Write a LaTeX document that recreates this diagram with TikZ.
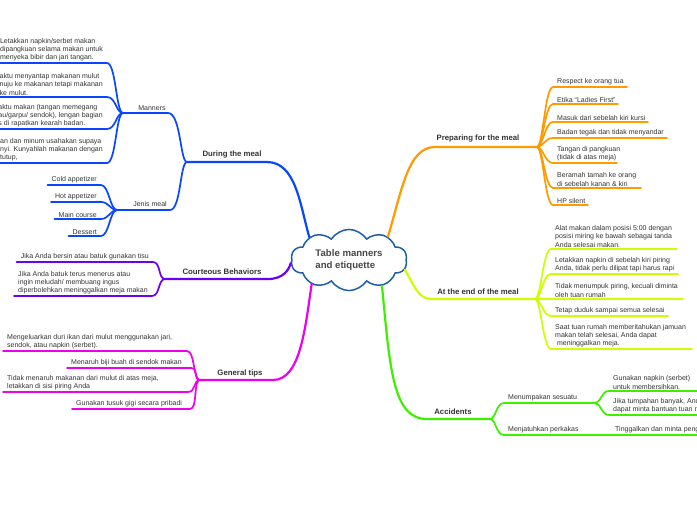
\documentclass[tikz,border=0pt]{standalone}
\usepackage{fontspec}
\setmainfont{Liberation Sans}
\usetikzlibrary{shapes.symbols}
\definecolor{mapink}{HTML}{333333}
\definecolor{mapcloud}{HTML}{1F5FA6}
\definecolor{mapblue}{HTML}{0A46FF}
\definecolor{mappurple}{HTML}{6A00F4}
\definecolor{mapmagenta}{HTML}{EE00EE}
\definecolor{maporange}{HTML}{FF9A00}
\definecolor{maplime}{HTML}{CCFF00}
\definecolor{mapgreen}{HTML}{3CF000}

\begin{document}
\begin{tikzpicture}[x=1pt,y=-1pt,font=\fontsize{7}{8.3}\selectfont,text=mapink,
    leaf/.style={anchor=south west,align=left,inner xsep=4pt,inner ysep=1.5pt},
    leafr/.style={anchor=south east,align=left,inner xsep=4pt,inner ysep=1.5pt},
    topic/.style={font=\fontsize{7.8}{9}\selectfont\bfseries},
    trunk/.style={line width=2.2pt,line cap=round},
    twig/.style={line width=1.7pt,line cap=round}]
  \useasboundingbox (0,0) rectangle (697,520);
  \clip (0,0) rectangle (697,520);

  % centre
  \node[cloud,cloud puffs=10,cloud puff arc=115,aspect=2,draw=mapcloud,line width=1.5pt,
        fill=white,minimum width=116pt,minimum height=58pt,align=left,inner sep=0pt,
        font=\fontsize{9.6}{12}\selectfont\bfseries,text=mapink!90] (meal) at (349,260)
        {Table manners\\and etiquette};

  % junctions
  \coordinate (duringj) at (187,162);
  \coordinate (mannerj) at (123,113);
  \coordinate (jenisj) at (117,210);
  \coordinate (courj) at (165,279);
  \coordinate (tipsj) at (200,380);
  \coordinate (prepj) at (537,147);
  \coordinate (endj) at (535,299);
  \coordinate (accj) at (490,419);
  \coordinate (tumj) at (595,403);

  % topics
  \node[topic] (during) at (232,154) {During the meal};
  \node (manners) at (152,108) {Manners};
  \node (jenis) at (150,204) {Jenis meal};
  \node[topic] (courteous) at (222,272) {Courteous Behaviors};
  \node[topic] (tips) at (240,373) {General tips};
  \node[topic] (prep) at (478,138) {Preparing for the meal};
  \node[topic] (endmeal) at (478,292) {At the end of the meal};
  \node[topic] (accidents) at (453,412) {Accidents};

  % leaves, left
  \node[leafr] (man1) at (107,63) {Letakkan napkin/serbet makan\\dipangkuan selama makan untuk\\menyeka bibir dan jari tangan.};
  \node[leafr] (man2) at (107,97) {aktu menyantap makanan mulut\\nuju ke makanan tetapi makanan\\ke mulut.};
  \node[leafr] (man3) at (107,129) {aktu makan (tangan memegang\\au/garpu/ sendok), lengan bagian\\s di rapatkan kearah badan.};
  \node[leafr] (man4) at (107,163) {an dan minum usahakan supaya\\nyi. Kunyahlah makanan dengan\\tutup,};

  \node[leafr] (jen1) at (101,185) {Cold appetizer};
  \node[leafr] (jen2) at (101,202) {Hot appetizer};
  \node[leafr] (jen3) at (101,219) {Main course};
  \node[leafr] (jen4) at (101,236) {Dessert};

  \node[leafr] (cour1) at (153,262) {Jika Anda bersin atau batuk gunakan tisu};
  \node[leafr] (cour2) at (152,296) {Jika Anda batuk terus menerus atau\\ingin meludah/ membuang ingus\\diperbolehkan meninggalkan meja makan};

  \node[leaf] (tip1) at (3,351) {Mengeluarkan duri ikan dari mulut menggunakan jari,\\sendok, atau napkin (serbet).};
  \node[leaf] (tip2) at (67,368) {Menaruh biji buah di sendok makan};
  \node[leaf] (tip3) at (3,392) {Tidak menaruh makanan dari mulut di atas meja,\\letakkan di sisi piring Anda};
  \node[leaf] (tip4) at (72,409) {Gunakan tusuk gigi secara pribadi};

  % leaves, right
  \node[leaf] (prep1) at (553,87) {Respect ke orang tua};
  \node[leaf] (prep2) at (553,104) {Etika “Ladies First”};
  \node[leaf] (prep3) at (553,122) {Masuk dari sebelah kiri kursi};
  \node[leaf] (prep4) at (553,138) {Badan tegak dan tidak menyandar};
  \node[leaf] (prep5) at (553,163) {Tangan di pangkuan\\(tidak di atas meja)};
  \node[leaf] (prep6) at (553,188) {Beramah tamah ke orang\\di sebelah kanan \& kiri};
  \node[leaf] (prep7) at (553,205) {HP silent};

  \node[leaf] (end1) at (551,249) {Alat makan dalam posisi 5:00 dengan\\posisi miring ke bawah sebagai tanda\\Anda selesai makan.};
  \node[leaf] (end2) at (551,274) {Letakkan napkin di sebelah kiri piring\\Anda, tidak perlu dilipat tapi harus rapi};
  \node[leaf] (end3) at (551,299) {Tidak menumpuk piring, kecuali diminta\\oleh tuan rumah};
  \node[leaf] (end4) at (551,316) {Tetap duduk sampai semua selesai};
  \node[leaf] (end5) at (551,349) {Saat tuan rumah memberitahukan jamuan\\makan telah selesai, Anda dapat\\\ meninggalkan meja.};

  \node[leaf] (tumpah) at (504,403) {Menumpakan sesuatu};
  \node[leaf] (jatuh) at (504,435) {Menjatuhkan perkakas};
  \node[leaf] (tum1) at (609,391) {Gunakan napkin (serbet)\\untuk membersihkan.};
  \node[leaf] (tum2) at (609,415) {Jika tumpahan banyak, And\\dapat minta bantuan tuan r};
  \node[leaf] (jat1) at (611,435) {Tinggalkan dan minta peng};

  % during the meal
  \draw[trunk,mapblue] (meal.150) .. controls (300,205) and (296,162) .. (267,162) -- (duringj);
  \draw[twig,mapblue] (duringj) .. controls (180,162) and (181,113) .. (168,113) -- (mannerj);
  \draw[twig,mapblue] (duringj) .. controls (180,162) and (181,210) .. (170,210) -- (jenisj);
  \foreach \n in {man1,man2,man3,man4}
    \draw[twig,mapblue] (mannerj) .. controls +(-7,0) and +(9,0) .. (\n.south east) -- ++(-120,0);
  \foreach \n in {jen1,jen2,jen3,jen4}
    \draw[twig,mapblue] (jenisj) .. controls +(-7,0) and +(8,0) .. (\n.south east) -- (\n.south west);

  % courteous behaviors
  \draw[trunk,mappurple] (meal.183) .. controls (289,270) and (283,279) .. (268,279) -- (courj);
  \foreach \n in {cour1,cour2}
    \draw[twig,mappurple] (courj) .. controls +(-7,0) and +(8,0) .. (\n.south east) -- (\n.south west);

  % general tips
  \draw[trunk,mapmagenta] (meal.213) .. controls (305,330) and (300,380) .. (273,380) -- (tipsj);
  \foreach \n/\w in {tip1/184,tip2/124,tip3/185,tip4/118}
    \draw[twig,mapmagenta] (tipsj) .. controls +(-7,0) and +(8,0) .. ([xshift=\w pt]\n.south west) -- (\n.south west);

  % preparing for the meal
  \draw[trunk,maporange] (meal.31) .. controls (402,190) and (408,147) .. (435,147) -- (prepj);
  \foreach \n/\w in {prep1/74,prep2/65,prep3/95,prep4/114,prep5/64,prep6/88,prep7/35}
    \draw[twig,maporange] (prepj) .. controls +(6,0) and +(-8,0) .. (\n.south west) -- ++(\w,0);

  % at the end of the meal
  \draw[trunk,maplime] (meal.-10) .. controls (416,288) and (418,299) .. (432,299) -- (endj);
  \foreach \n/\w in {end1/126,end2/127,end3/132,end4/117,end5/141}
    \draw[twig,maplime] (endj) .. controls +(6,0) and +(-8,0) .. (\n.south west) -- ++(\w,0);

  % accidents
  \draw[trunk,mapgreen] (meal.-38) .. controls (390,370) and (393,419) .. (427,419) -- (accj);
  \draw[twig,mapgreen] (accj) .. controls +(6,0) and +(-8,0) .. (tumpah.south west) -- (tumj);
  \draw[twig,mapgreen] (accj) .. controls +(6,0) and +(-8,0) .. (jatuh.south west) -- (jat1.south west) -- ++(100,0);
  \foreach \n in {tum1,tum2}
    \draw[twig,mapgreen] (tumj) .. controls +(6,0) and +(-8,0) .. (\n.south west) -- ++(100,0);
\end{tikzpicture}
\end{document}
